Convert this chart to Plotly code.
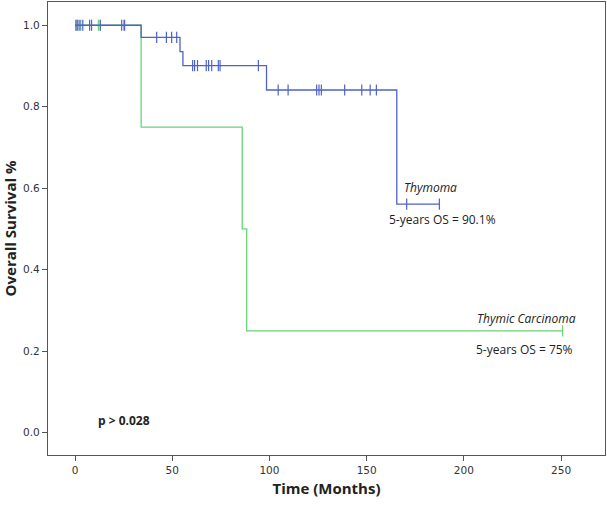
import numpy as np
import plotly.graph_objects as go

# Thymoma (blue)
thy_event_times = [34, 54, 55.5, 98.5, 165.5]
thy_surv_after = [0.97, 0.935, 0.901, 0.841, 0.561]
thy_end = 187.4
thy_censor = [0.5, 1.5, 2.5, 4, 7.5, 8.5, 13, 24, 25.5, 42, 47, 49.7, 52.3,
              60.5, 61.5, 63, 67.5, 68.7, 70.3, 73.7, 74.6, 94.3,
              104.5, 109.6, 124.3, 125.5, 126.7, 138.7, 147.5, 151.8, 155, 170.6, 187.4]

# Thymic carcinoma (green)
car_event_times = [34, 86, 88.3]
car_surv_after = [0.75, 0.5, 0.25]
car_end = 250.8
car_censor = [0.5, 1.2, 3, 12, 13, 25, 250.8]

BLUE = "rgb(78,98,200)"
GREEN = "rgb(105,212,118)"


def step_xy(times, surv, end):
    xs = [0.0] + list(times) + [end]
    ys = [1.0] + list(surv) + [surv[-1]]
    return xs, ys


def surv_at(t, times, surv):
    s = 1.0
    for ti, si in zip(times, surv):
        if t >= ti:
            s = si
    return s


fig = go.Figure()
for times, surv, end, cens, col in [
    (car_event_times, car_surv_after, car_end, car_censor, GREEN),
    (thy_event_times, thy_surv_after, thy_end, thy_censor, BLUE),
]:
    xs, ys = step_xy(times, surv, end)
    fig.add_trace(go.Scatter(x=xs, y=ys, mode="lines", line=dict(shape="hv", color=col, width=1.3),
                             hoverinfo="skip", showlegend=False))
    cy = [surv_at(t, times, surv) for t in cens]
    fig.add_trace(go.Scatter(x=cens, y=cy, mode="markers",
                             marker=dict(symbol="line-ns", size=8, line=dict(color=col, width=1.2)),
                             showlegend=False))

txt_font = dict(family="Open Sans, DejaVu Sans", size=12, color="#222")
annos = [
    dict(x=168, y=0.602, text="<i>Thymoma</i>"),
    dict(x=160.5, y=0.524, text="5-years OS = 90.1%"),
    dict(x=205.8, y=0.281, text="<i>Thymic Carcinoma</i>"),
    dict(x=205.2, y=0.203, text="5-years OS = 75%"),
    dict(x=10.8, y=0.029, text="<b>p &gt; 0.028</b>"),
]
for a in annos:
    fig.add_annotation(x=a["x"], y=a["y"], text=a["text"], xref="x", yref="y",
                       xanchor="left", yanchor="middle", showarrow=False, font=txt_font)

axis_common = dict(showline=True, mirror=True, linecolor="#555", linewidth=1.2,
                   ticks="outside", ticklen=5, tickcolor="#555", showgrid=False, zeroline=False,
                   automargin=False,
                   tickfont=dict(family="DejaVu Sans", size=10.5, color="#333"))

fig.update_layout(
    width=607, height=505,
    margin=dict(l=48, r=2, t=2, b=50),
    plot_bgcolor="white", paper_bgcolor="white",
    xaxis=dict(range=[-13.9, 272.6], tickvals=[0, 50, 100, 150, 200, 250],
               title=dict(text="<b>Time (Months)</b>", standoff=8,
                          font=dict(family="Open Sans", size=15, color="#222")),
               **axis_common),
    yaxis=dict(range=[-0.0547, 1.057], tickvals=[0, 0.2, 0.4, 0.6, 0.8, 1.0], tickformat=".1f",
               title=dict(text="<b>Overall Survival %</b>", standoff=4,
                          font=dict(family="Open Sans", size=15, color="#222")),
               **axis_common),
)

fig.write_html("out.html", config={"displayModeBar": False},
               post_script="document.body.style.margin='0';document.body.style.overflow='hidden';")
